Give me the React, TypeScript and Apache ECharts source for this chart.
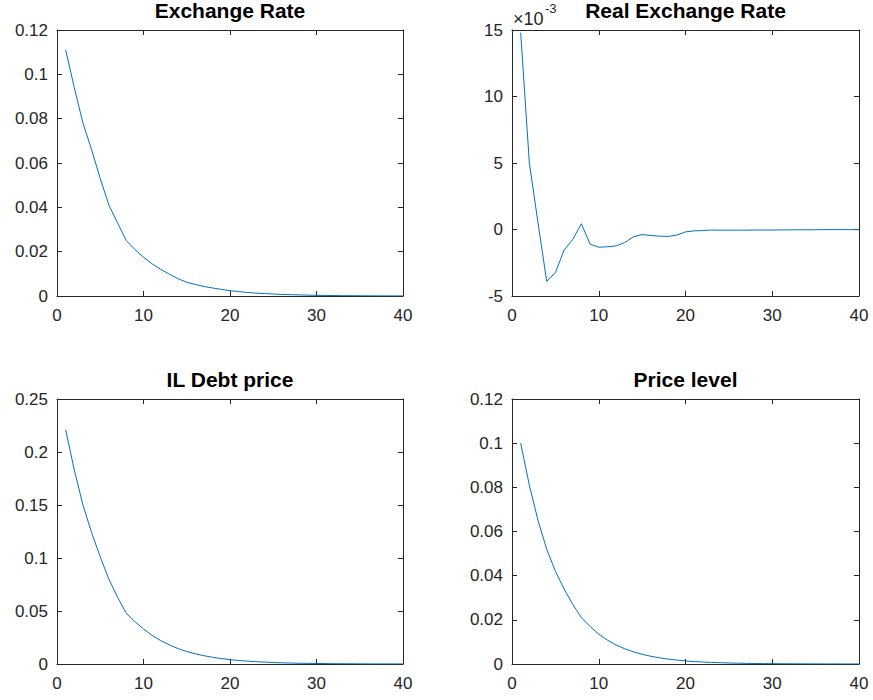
import React, { useEffect, useRef } from "react";
import * as echarts from "echarts";

const periods: number[] = Array.from({ length: 40 }, (_, i) => i + 1);

const exchangeRate: number[] = [
  0.111, 0.094, 0.078, 0.066, 0.053, 0.041, 0.033, 0.025, 0.021, 0.0175,
  0.0145, 0.012, 0.0098, 0.0078, 0.0062, 0.0052, 0.0043, 0.0036, 0.003, 0.0024,
  0.002, 0.0016, 0.0013, 0.0011, 0.0009, 0.0007, 0.0006, 0.0005, 0.0004, 0.0003,
  0.00025, 0.0002, 0.00016, 0.00013, 0.0001, 0.00008, 0.00006, 0.00005, 0.00004, 0.00003,
];

const realExchangeRate: number[] = [
  0.0148, 0.005, 0.0005, -0.0039, -0.00325, -0.00155, -0.00075, 0.00043, -0.0011, -0.00133,
  -0.0013, -0.00123, -0.00098, -0.00055, -0.00038, -0.00045, -0.0005, -0.00052, -0.00042, -0.00018,
  -0.0001, -0.00008, -0.00004, -0.00005, -0.00005, -0.00005, -0.00005, -0.00004, -0.00004, -0.00004,
  -0.00003, -0.00003, -0.00002, -0.00002, -0.00002, -0.00001, -0.00001, -0.00001, -0.00001, -0.00001,
];

const ilDebtPrice: number[] = [
  0.221, 0.183, 0.15, 0.124, 0.101, 0.08, 0.063, 0.048, 0.04, 0.033,
  0.027, 0.022, 0.018, 0.0145, 0.0118, 0.0096, 0.0078, 0.0063, 0.0051, 0.0041,
  0.0033, 0.0027, 0.0022, 0.0018, 0.0014, 0.0011, 0.0009, 0.0007, 0.0006, 0.0005,
  0.0004, 0.0003, 0.00025, 0.0002, 0.00016, 0.00013, 0.0001, 0.00008, 0.00006, 0.00005,
];

const priceLevel: number[] = [
  0.1, 0.081, 0.065, 0.052, 0.042, 0.034, 0.027, 0.021, 0.017, 0.0135,
  0.0108, 0.0086, 0.0069, 0.0055, 0.0044, 0.0035, 0.0028, 0.0022, 0.0018, 0.0014,
  0.0011, 0.0009, 0.0007, 0.0006, 0.00045, 0.00036, 0.00029, 0.00023, 0.00018, 0.00015,
  0.00012, 0.0001, 0.00008, 0.00006, 0.00005, 0.00004, 0.00003, 0.00002, 0.00002, 0.00001,
];

const titles: string[] = ["Exchange Rate", "Real Exchange Rate", "IL Debt price", "Price level"];
const seriesData: number[][] = [exchangeRate, realExchangeRate, ilDebtPrice, priceLevel];
const yRanges: { min: number; max: number; interval: number }[] = [
  { min: 0, max: 0.12, interval: 0.02 },
  { min: -0.005, max: 0.015, interval: 0.005 },
  { min: 0, max: 0.25, interval: 0.05 },
  { min: 0, max: 0.12, interval: 0.02 },
];
const xTicks = { min: 0, max: 40, interval: 10 };

const grids = [
  { left: 57, top: 30, width: 346, height: 266 },
  { left: 512, top: 30, width: 347, height: 266 },
  { left: 57, top: 399, width: 346, height: 265 },
  { left: 512, top: 399, width: 347, height: 265 },
];

const AXIS_COLOR = "#262626";
const FONT = "'Liberation Sans', Arial, Helvetica, sans-serif";

export default function App() {
  const ref = useRef<HTMLDivElement>(null);

  useEffect(() => {
    if (!ref.current) return;
    const chart = echarts.init(ref.current, undefined, { renderer: "svg" });

    const xAxes: any[] = [];
    const yAxes: any[] = [];
    const series: any[] = [];
    const title: any[] = [];

    grids.forEach((g, i) => {
      const yr = yRanges[i];
      const fmtY = (v: number) => {
        if (i === 1) return String(Math.round(v * 1000));
        return String(parseFloat(v.toFixed(4)));
      };
      const baseX = {
        type: "value",
        gridIndex: i,
        min: xTicks.min,
        max: xTicks.max,
        interval: xTicks.interval,
        splitLine: { show: false },
        axisLine: { show: true, onZero: false, lineStyle: { color: AXIS_COLOR, width: 1 } },
        axisTick: { show: true, inside: true, length: 5, lineStyle: { color: AXIS_COLOR } },
      };
      xAxes.push({
        ...baseX,
        position: "bottom",
        axisLabel: { show: true, color: AXIS_COLOR, fontSize: 17, fontFamily: FONT, margin: 11 },
      });
      xAxes.push({
        ...baseX,
        position: "top",
        axisLabel: { show: false },
      });
      const baseY = {
        type: "value",
        gridIndex: i,
        min: yr.min,
        max: yr.max,
        interval: yr.interval,
        splitLine: { show: false },
        axisLine: { show: true, onZero: false, lineStyle: { color: AXIS_COLOR, width: 1 } },
        axisTick: { show: true, inside: true, length: 5, lineStyle: { color: AXIS_COLOR } },
      };
      yAxes.push({
        ...baseY,
        position: "left",
        axisLabel: {
          show: true,
          color: AXIS_COLOR,
          fontSize: 17,
          fontFamily: FONT,
          margin: 9,
          formatter: fmtY,
        },
      });
      yAxes.push({
        ...baseY,
        position: "right",
        axisLabel: { show: false },
      });
      series.push({
        type: "line",
        xAxisIndex: i * 2,
        yAxisIndex: i * 2,
        data: periods.map((p, k) => [p, seriesData[i][k]]),
        showSymbol: false,
        symbol: "none",
        lineStyle: { color: "#0072BD", width: 1 },
        itemStyle: { color: "#0072BD" },
      });
      title.push({
        text: titles[i],
        left: g.left + g.width / 2,
        top: g.top - 30,
        textAlign: "center",
        textStyle: { fontSize: 21, fontWeight: "bold", color: "#000", fontFamily: FONT },
        padding: 0,
      });
    });

    chart.setOption({
      animation: false,
      backgroundColor: "#fff",
      title,
      grid: grids.map((g) => ({ ...g, show: false, containLabel: false })),
      xAxis: xAxes,
      yAxis: yAxes,
      series,
      graphic: [
        {
          type: "text",
          x: 513,
          y: 18.5,
          style: {
            text: "×10",
            fontSize: 18,
            fontFamily: FONT,
            fill: AXIS_COLOR,
            verticalAlign: "middle",
            align: "left",
          },
        },
        {
          type: "text",
          x: 545,
          y: 8.5,
          style: {
            text: "-3",
            fontSize: 13,
            fontFamily: FONT,
            fill: AXIS_COLOR,
            verticalAlign: "middle",
            align: "left",
          },
        },
      ],
    });

    return () => {
      chart.dispose();
    };
  }, []);

  return (
    <div
      ref={ref}
      style={{ position: "fixed", left: 0, top: 0, width: 873, height: 700, background: "#fff" }}
    />
  );
}
